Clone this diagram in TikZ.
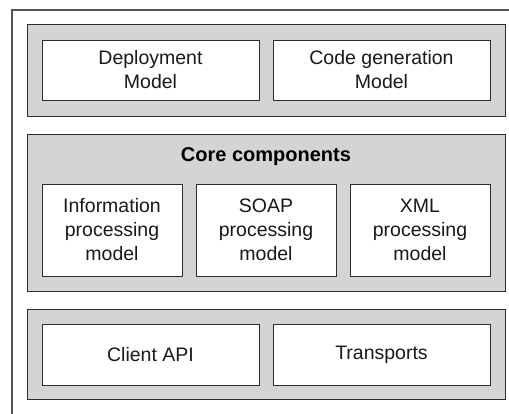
\documentclass[tikz,border=0pt]{standalone}
\usepackage{fontspec}
\setmainfont{Liberation Sans}
\definecolor{panelgray}{RGB}{212,212,212}
\definecolor{edge}{RGB}{45,45,45}
\definecolor{frame}{RGB}{85,85,85}
\begin{document}
\begin{tikzpicture}[x=1pt,y=-1pt,
  panel/.style={draw=edge,line width=1pt,fill=panelgray,minimum width=478pt,inner sep=0pt},
  box/.style={draw=edge,line width=1pt,fill=white,inner sep=0pt,align=center,
    font=\fontsize{19.5}{24}\selectfont,text=black!90},
  wide/.style={box,minimum width=217pt},
  narrow/.style={box,minimum width=140pt,minimum height=92pt}]
\useasboundingbox (0,0) rectangle (509,413);
\draw[frame,line width=1.6pt] (12,420) -- (12,10) -- (520,10);
% top panel
\node[panel,minimum height=92pt] (toppanel) at (266,70) {};
\node[wide,minimum height=60pt] (deploy) at (150.5,70) {Deployment\\Model};
\node[wide,minimum height=60pt] (codegen) at (381.5,70) {Code generation\\Model};
% core panel
\node[panel,minimum height=157pt] (corepanel) at (266,212.5) {};
\node[font=\fontsize{20}{24}\selectfont\bfseries,text=black] (coretitle) at (266,157) {Core components};
\node[narrow] (info) at (112,230) {Information\\processing\\model};
\node[narrow] (soap) at (266,230) {SOAP\\processing\\model};
\node[narrow] (xml) at (420,230) {XML\\processing\\model};
% bottom panel
\node[panel,minimum height=90pt] (botpanel) at (266,354) {};
\node[wide,minimum height=61pt] (client) at (150.5,354.5) {Client API};
\node[wide,minimum height=61pt] (transports) at (381.5,354.5) {Transports};
\end{tikzpicture}
\end{document}
